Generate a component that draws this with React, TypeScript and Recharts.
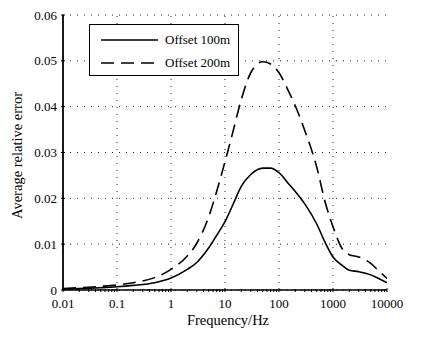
import React from 'react';
import { LineChart, Line, XAxis, YAxis, CartesianGrid, ReferenceLine, Legend } from 'recharts';

const FONT = 'Liberation Serif, DejaVu Serif, Tinos, Times New Roman, Times, serif';

// frequency (Hz) sample points
const frequency = [0.01, 0.02, 0.05, 0.1, 0.2, 0.5, 1, 2, 3, 5, 7, 10, 14, 20, 30, 50, 70, 100, 150, 200, 300, 500, 700, 1000, 1500, 2000, 3000, 5000, 7000, 10000];

// average relative error, offset 100m (solid)
const offset100 = [0.0002, 0.0003, 0.0005, 0.0007, 0.001, 0.0016, 0.0026, 0.0045, 0.006, 0.0092, 0.0119, 0.0149, 0.0186, 0.0226, 0.0252, 0.0266, 0.0266, 0.0256, 0.0232, 0.0215, 0.0188, 0.0144, 0.0106, 0.0072, 0.0053, 0.0043, 0.004, 0.0033, 0.0025, 0.0016];

// average relative error, offset 200m (dashed)
const offset200 = [0.0003, 0.0005, 0.0008, 0.0011, 0.0016, 0.0027, 0.0045, 0.0074, 0.0102, 0.016, 0.0215, 0.028, 0.0345, 0.0415, 0.0474, 0.0498, 0.0493, 0.0474, 0.0434, 0.0402, 0.0348, 0.0268, 0.0196, 0.0138, 0.0089, 0.0077, 0.0072, 0.0058, 0.0042, 0.0025];

const xMajor = [0.01, 0.1, 1, 10, 100, 1000, 10000];
const xGrid = [0.1, 1, 10, 100, 1000];
const minorSteps = [2, 3, 4, 5, 6, 7, 8, 9];
const xTicks = [...xMajor, ...xMajor.slice(0, -1).flatMap(d => minorSteps.map(m => m * d))];
const yTicks = [0, 0.01, 0.02, 0.03, 0.04, 0.05, 0.06];

const data = frequency.map((f, i) => ({ f, offset100: offset100[i], offset200: offset200[i] }));

const isMajor = (v: number) => xMajor.includes(v);

const BottomTick = ({ x, y, payload }: any) => {
  const major = isMajor(payload.value);
  return (
    <g>
      <line x1={x} x2={x} y1={y} y2={y - (major ? 4 : 3)} stroke="#000" />
      {major && (
        <text x={x} y={y + 16} textAnchor="middle" fontSize={13} fill="#000" style={{ fontFamily: FONT }}>
          {String(payload.value)}
        </text>
      )}
    </g>
  );
};

const TopTick = ({ x, y, payload }: any) => (
  <line x1={x} x2={x} y1={y} y2={y + (isMajor(payload.value) ? 4 : 3)} stroke="#000" />
);

const LeftTick = ({ x, y, payload }: any) => (
  <g>
    <line x1={x} x2={x + 4} y1={y} y2={y} stroke="#000" />
    <text x={x - 4} y={y + 4.5} textAnchor="end" fontSize={13} fill="#000" style={{ fontFamily: FONT }}>
      {payload.value === 0 ? '0' : payload.value.toFixed(2)}
    </text>
  </g>
);

const RightTick = ({ x, y }: any) => (
  <line x1={x} x2={x - 4} y1={y} y2={y} stroke="#000" />
);

const LegendBox = ({ payload }: any) => (
  <div style={{ width: 148, height: 47, border: '1px solid #000', background: '#fff', fontFamily: FONT, fontSize: 13, color: '#000', paddingTop: 3, boxSizing: 'content-box' }}>
    {(payload || []).map((entry: any, i: number) => (
      <div key={i} style={{ display: 'flex', alignItems: 'center', height: 23 }}>
        <svg width={57} height={4} style={{ marginLeft: 11 }}>
          <line x1={0} x2={57} y1={2} y2={2} stroke="#000" strokeWidth={1.6}
            strokeDasharray={entry.payload?.strokeDasharray} />
        </svg>
        <span style={{ marginLeft: 7 }}>{entry.value}</span>
      </div>
    ))}
  </div>
);

const YLabel = ({ viewBox }: any) => {
  const cy = viewBox.y + viewBox.height / 2 + 3;
  return (
    <text x={22} y={cy} transform={`rotate(-90, 22, ${cy})`} textAnchor="middle" fontSize={14.5} fill="#000" style={{ fontFamily: FONT }}>
      Average relative error
    </text>
  );
};

const XLabel = ({ viewBox }: any) => (
  <text x={viewBox.x + viewBox.width / 2 + 3} y={325} textAnchor="middle" fontSize={14.5} fill="#000" style={{ fontFamily: FONT }}>
    Frequency/Hz
  </text>
);

export default function App() {
  return (
    <div style={{ position: 'absolute', left: 0, top: 0, width: 427, height: 339, background: '#fff', fontFamily: FONT }}>
      <LineChart width={427} height={339} data={data} margin={{ top: 15, right: 40, bottom: 9, left: 23 }}>
        <CartesianGrid vertical={false} stroke="#222" strokeDasharray="1 6" />
        {xGrid.map(v => (
          <ReferenceLine key={v} x={v} stroke="#222" strokeDasharray="1 6" />
        ))}
        <XAxis dataKey="f" type="number" scale="log" domain={[0.01, 10000]} allowDataOverflow
          ticks={xTicks} interval={0} tickSize={0} tickLine={false} tick={<BottomTick />} height={40}
          axisLine={{ stroke: '#000', strokeWidth: 1.6 }} label={<XLabel />} />
        <XAxis xAxisId="top" orientation="top" dataKey="f" type="number" scale="log" domain={[0.01, 10000]} allowDataOverflow
          ticks={xTicks} interval={0} tickSize={0} tickLine={false} tick={<TopTick />} height={0}
          axisLine={{ stroke: '#000', strokeWidth: 1.2 }} />
        <YAxis type="number" domain={[0, 0.06]} ticks={yTicks} interval={0} tickSize={0} tickLine={false}
          tick={<LeftTick />} width={40} axisLine={{ stroke: '#000', strokeWidth: 1.8 }} label={<YLabel />} />
        <YAxis yAxisId="right" orientation="right" type="number" domain={[0, 0.06]} ticks={yTicks} interval={0}
          tickSize={0} tickLine={false} tick={<RightTick />} width={0} axisLine={{ stroke: '#000', strokeWidth: 1.4 }} />
        <Legend layout="vertical" align="center" verticalAlign="middle" content={<LegendBox />}
          wrapperStyle={{ position: 'absolute', left: 89, top: 24, width: 'auto' }} />
        <Line type="monotone" dataKey="offset100" name="Offset 100m" stroke="#000" strokeWidth={1.6}
          dot={false} activeDot={false} isAnimationActive={false} />
        <Line type="monotone" dataKey="offset200" name="Offset 200m" stroke="#000" strokeWidth={1.6}
          strokeDasharray="13 7" dot={false} activeDot={false} isAnimationActive={false} />
      </LineChart>
    </div>
  );
}
